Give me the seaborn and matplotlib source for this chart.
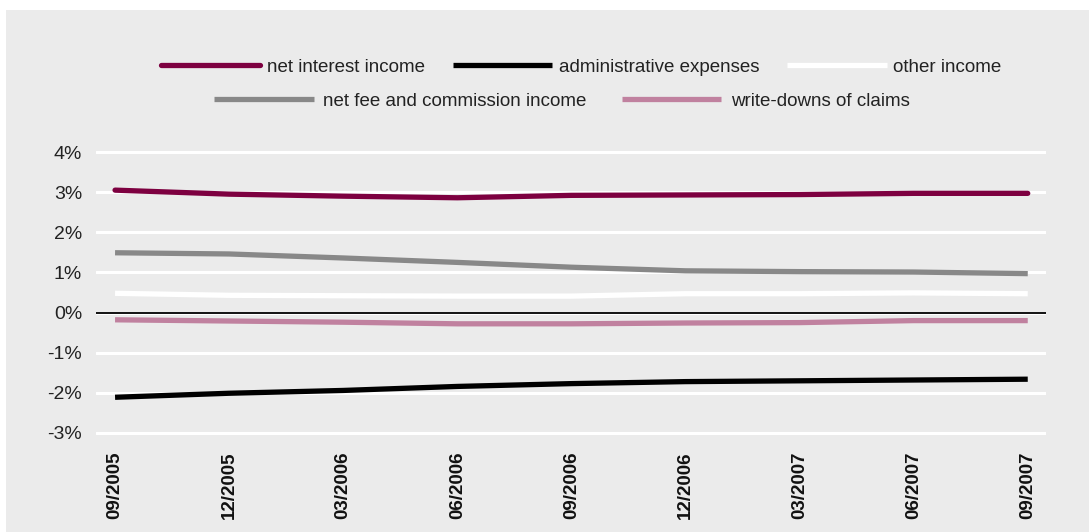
import matplotlib
matplotlib.use("Agg")
import matplotlib.pyplot as plt
from matplotlib.patches import Rectangle
import seaborn as sns
import pandas as pd

# Quarter-end reporting dates
periods = ["09/2005", "12/2005", "03/2006", "06/2006", "09/2006",
           "12/2006", "03/2007", "06/2007", "09/2007"]

# Ratios in percent
net_interest_income = [3.05, 2.95, 2.90, 2.86, 2.92, 2.93, 2.94, 2.97, 2.97]
administrative_expenses = [-2.11, -2.01, -1.94, -1.84, -1.77, -1.72, -1.70, -1.68, -1.66]
other_income = [0.48, 0.43, 0.42, 0.41, 0.41, 0.47, 0.47, 0.49, 0.47]
net_fee_commission = [1.49, 1.46, 1.36, 1.25, 1.13, 1.04, 1.02, 1.01, 0.97]
write_downs = [-0.18, -0.21, -0.24, -0.28, -0.28, -0.26, -0.25, -0.20, -0.20]

series_names = ["net interest income", "administrative expenses", "other income",
                "net fee and commission income", "write-downs of claims"]
series_values = [net_interest_income, administrative_expenses, other_income,
                 net_fee_commission, write_downs]
series_colors = ["#7d0040", "#000000", "#ffffff", "#888888", "#c0819f"]

rows = []
for name, vals in zip(series_names, series_values):
    for i, v in enumerate(vals):
        rows.append({"idx": i, "value": v, "series": name})
df = pd.DataFrame(rows)

sns.set_theme(style="white")
plt.rcParams["font.family"] = ["Liberation Sans", "DejaVu Sans"]

bg = "#ebebeb"
fig = plt.figure(figsize=(10.89, 5.32), dpi=100)
fig.patch.set_facecolor("white")
fig.patches.append(Rectangle((6 / 1089, 0), 1, (532 - 10) / 532,
                             transform=fig.transFigure, facecolor=bg,
                             edgecolor="none", zorder=-10))

ax = fig.add_axes([96 / 1089, (532 - 435) / 532, (1046 - 96) / 1089, (435 - 150) / 532])
ax.set_facecolor(bg)

palette = dict(zip(series_names, series_colors))
sns.lineplot(data=df, x="idx", y="value", hue="series", hue_order=series_names,
             palette=palette, linewidth=3.8, sort=False, legend=False, ax=ax,
             zorder=3)
for line in ax.get_lines():
    line.set_solid_capstyle("butt")
ax.get_lines()[0].set_solid_capstyle("round")

ax.set_ylim(-3.05, 4.05)
ax.set_xlim(-0.167, 8.16)
ax.set_yticks(range(-3, 5))
ax.set_yticklabels([f"{t}%" for t in range(-3, 5)], fontsize=14, color="#222222")
ax.yaxis.grid(True, color="white", linewidth=2.2)
ax.xaxis.grid(False)
ax.axhline(0, color="#111111", linewidth=1.4, zorder=2)
ax.set_xticks(range(len(periods)))
ax.set_xticklabels(periods, rotation=90, fontsize=13.5, fontweight="bold",
                   color="#111111", va="top")
ax.tick_params(axis="x", length=0, pad=12)
ax.tick_params(axis="y", length=0, pad=10)
ax.set_xlabel("")
ax.set_ylabel("")
for s in ax.spines.values():
    s.set_visible(False)

# Two centred legend rows
handles = [plt.Line2D([], [], color=c, linewidth=3.8, solid_capstyle="butt")
           for c in series_colors]
handles[0].set_solid_capstyle("round")
legend_kw = dict(loc="center", frameon=False, fontsize=13.5, handlelength=5.3,
                 labelcolor="#222222")
fig.legend(handles[:3], series_names[:3], ncol=3, handletextpad=0.35,
           columnspacing=1.5, bbox_to_anchor=(581 / 1089, 1 - 67 / 532),
           **legend_kw)
fig.legend(handles[3:], series_names[3:], ncol=2, handletextpad=0.5,
           columnspacing=1.9, bbox_to_anchor=(562 / 1089, 1 - 101 / 532),
           **legend_kw)

fig.savefig("out.png", dpi=100, facecolor=fig.get_facecolor())
